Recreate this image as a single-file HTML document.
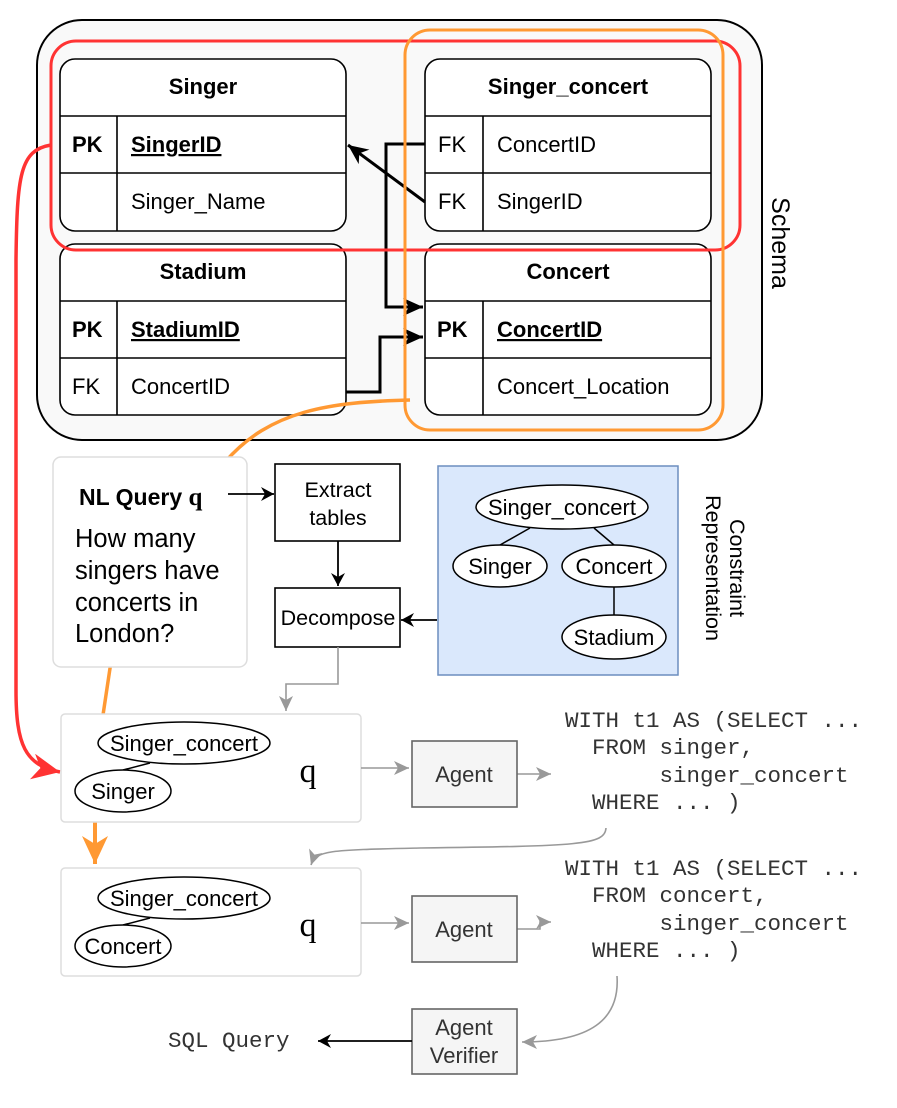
<!DOCTYPE html>
<html><head><meta charset="utf-8"><style>
body{margin:0;background:#fff}
svg text{font-family:"Liberation Sans",Arial,sans-serif}
svg text.m{font-family:"Liberation Mono",monospace;font-size:22.5px;fill:#333}
svg .s{font-family:"Liberation Serif",serif}
</style></head><body>
<svg width="897" height="1103" viewBox="0 0 897 1103" xmlns="http://www.w3.org/2000/svg">
<defs>
<marker id="ab" markerWidth="14" markerHeight="14" refX="13" refY="7" orient="auto" markerUnits="userSpaceOnUse"><path d="M0,0 L13,7 L0,14 L4,7z" fill="#000"/></marker>
<marker id="ab2" markerWidth="22" markerHeight="18" refX="20" refY="9" orient="auto" markerUnits="userSpaceOnUse"><path d="M0,0 L20,9 L0,18 L6,9z" fill="#000"/></marker>
<marker id="ag" markerWidth="16" markerHeight="14" refX="15" refY="7" orient="auto" markerUnits="userSpaceOnUse"><path d="M0,0 L15,7 L0,14 L4,7z" fill="#999"/></marker>
<marker id="ar" markerWidth="30" markerHeight="26" refX="28" refY="13" orient="auto" markerUnits="userSpaceOnUse"><path d="M0,0 L28,13 L0,26 L8,13z" fill="#f33"/></marker>
<marker id="ao" markerWidth="30" markerHeight="26" refX="28" refY="13" orient="auto" markerUnits="userSpaceOnUse"><path d="M0,0 L28,13 L0,26 L8,13z" fill="#f93"/></marker>
</defs>
<rect x="37" y="20" width="725" height="420" rx="45" fill="#f9f9f9" stroke="#000" stroke-width="2"/>
<g stroke="#000" stroke-width="1.6" fill="#fff">
<rect x="60" y="59" width="286" height="172" rx="15"/><path d="M60 116H346M60 173H346M117 116V231"/>
<rect x="425" y="59" width="286" height="172" rx="15"/><path d="M425 116H711M425 173H711M483 116V231"/>
<rect x="60" y="244" width="286" height="171" rx="15"/><path d="M60 301H346M60 358H346M117 301V415"/>
<rect x="425" y="244" width="286" height="171" rx="15"/><path d="M425 301H711M425 358H711M483 301V415"/>
</g>
<g font-size="22" fill="#000">
<text x="203" y="94" text-anchor="middle" font-weight="bold">Singer</text>
<text x="72" y="152" font-weight="bold">PK</text><text x="131" y="152" font-weight="bold" text-decoration="underline">SingerID</text>
<text x="131" y="209">Singer_Name</text>
<text x="568" y="94" text-anchor="middle" font-weight="bold">Singer_concert</text>
<text x="438" y="152">FK</text><text x="497" y="152">ConcertID</text>
<text x="438" y="209">FK</text><text x="497" y="209">SingerID</text>
<text x="203" y="279" text-anchor="middle" font-weight="bold">Stadium</text>
<text x="72" y="337" font-weight="bold">PK</text><text x="131" y="337" font-weight="bold" text-decoration="underline">StadiumID</text>
<text x="72" y="394">FK</text><text x="131" y="394">ConcertID</text>
<text x="568" y="279" text-anchor="middle" font-weight="bold">Concert</text>
<text x="437" y="337" font-weight="bold">PK</text><text x="497" y="337" font-weight="bold" text-decoration="underline">ConcertID</text>
<text x="497" y="394">Concert_Location</text>
</g>
<text x="772" y="243" font-size="25" transform="rotate(90 772 243)" text-anchor="middle">Schema</text>
<g stroke="#000" stroke-width="3" fill="none">
<path d="M425 144H386V307H423" marker-end="url(#ab2)"/>
<path d="M425 202L348 145" marker-end="url(#ab2)"/>
<path d="M346 392H380V337H423" marker-end="url(#ab2)"/>
</g>
<rect x="51" y="41" width="689" height="209" rx="25" fill="none" stroke="#f33" stroke-width="3"/>
<rect x="405" y="30" width="318" height="400" rx="25" fill="none" stroke="#f93" stroke-width="3"/>
<path d="M410 400C330 402 270 410 225 462" fill="none" stroke="#f93" stroke-width="3.5"/>
<path d="M112 655L103 715" fill="none" stroke="#f93" stroke-width="3.5"/>
<path d="M95 822V864" fill="none" stroke="#f93" stroke-width="4" marker-end="url(#ao)"/>
<path d="M51 145C20 150 17 175 16 260V690C16 745 25 765 60 772" fill="none" stroke="#f33" stroke-width="3.5" marker-end="url(#ar)"/>
<rect x="53" y="457" width="194" height="210" rx="8" fill="#fff" stroke="#ddd" stroke-width="1.5"/>
<text x="79" y="505" font-size="23" font-weight="bold">NL Query <tspan class="s" font-size="25">q</tspan></text>
<g font-size="25.5"><text x="75" y="547">How many</text><text x="75" y="579">singers have</text><text x="75" y="611">concerts in</text><text x="75" y="642">London?</text></g>
<path d="M228 494H274" stroke="#000" stroke-width="1.8" marker-end="url(#ab)"/>
<rect x="275" y="464" width="125" height="77" fill="#fff" stroke="#000" stroke-width="1.6"/>
<text x="338" y="497" font-size="21.5" text-anchor="middle">Extract</text><text x="338" y="525" font-size="21.5" text-anchor="middle">tables</text>
<path d="M338 541V586" stroke="#000" stroke-width="1.8" marker-end="url(#ab)"/>
<rect x="275" y="588" width="125" height="59" fill="#fff" stroke="#000" stroke-width="1.6"/>
<text x="338" y="625" font-size="21.5" text-anchor="middle">Decompose</text>
<path d="M437 620H401" stroke="#000" stroke-width="1.8" marker-end="url(#ab)"/>
<rect x="438" y="466" width="240" height="209" fill="#dae8fc" stroke="#6c8ebf" stroke-width="1.5"/>
<g stroke="#000" stroke-width="1.5" fill="#fff">
<path d="M530 528L500 545M594 528L614 545M614 587V616"/>
<ellipse cx="562" cy="507" rx="86" ry="22"/><ellipse cx="500" cy="566" rx="47" ry="21"/>
<ellipse cx="614" cy="566" rx="52" ry="21"/><ellipse cx="614" cy="637" rx="52" ry="22"/>
</g>
<g font-size="22" text-anchor="middle"><text x="562" y="515">Singer_concert</text><text x="500" y="574">Singer</text><text x="614" y="574">Concert</text><text x="614" y="645">Stadium</text></g>
<g font-size="21.5" text-anchor="middle"><text x="730" y="568" transform="rotate(90 730 568)">Constraint</text><text x="706" y="568" transform="rotate(90 706 568)">Representation</text></g>
<path d="M338 647V684H286V711" fill="none" stroke="#999" stroke-width="1.6" marker-end="url(#ag)"/>
<g stroke="#ddd" stroke-width="1.5" fill="#fff"><rect x="61" y="714" width="300" height="108" rx="4"/><rect x="61" y="868" width="300" height="108" rx="4"/></g>
<g stroke="#000" stroke-width="1.5" fill="#fff">
<path d="M150 763L123 770"/><ellipse cx="184" cy="743" rx="86" ry="21"/><ellipse cx="123" cy="791" rx="48" ry="21"/>
<path d="M150 918L123 925"/><ellipse cx="184" cy="898" rx="86" ry="21"/><ellipse cx="123" cy="946" rx="48" ry="21"/>
</g>
<g font-size="22" text-anchor="middle"><text x="184" y="751">Singer_concert</text><text x="123" y="799">Singer</text><text x="184" y="906">Singer_concert</text><text x="123" y="954">Concert</text></g>
<g font-size="34" text-anchor="middle"><text class="s" x="308" y="782">q</text><text class="s" x="308" y="936">q</text></g>
<g stroke="#999" stroke-width="1.6" fill="none">
<path d="M361 768H409" marker-end="url(#ag)"/><path d="M517 774H551" marker-end="url(#ag)"/>
<path d="M361 923H409" marker-end="url(#ag)"/><path d="M517 929H540V922H551" marker-end="url(#ag)"/>
<path d="M606 828C605 845 580 846 420 848C330 850 316 850 311 865" marker-end="url(#ag)"/>
<path d="M617 976C620 1020 590 1042 522 1042" marker-end="url(#ag)"/>
</g>
<g fill="#f5f5f5" stroke="#666" stroke-width="1.6"><rect x="412" y="741" width="105" height="66"/><rect x="412" y="896" width="105" height="66"/><rect x="412" y="1009" width="105" height="65"/></g>
<g font-size="22" text-anchor="middle" fill="#333"><text x="464" y="782">Agent</text><text x="464" y="937">Agent</text><text x="464" y="1035">Agent</text><text x="464" y="1063">Verifier</text></g>
<text class="m" x="565" y="727" xml:space="preserve">WITH t1 AS (SELECT ...</text>
<text class="m" x="565" y="754" xml:space="preserve">  FROM singer,</text>
<text class="m" x="565" y="782" xml:space="preserve">       singer_concert</text>
<text class="m" x="565" y="809" xml:space="preserve">  WHERE ... )</text>
<text class="m" x="565" y="875" xml:space="preserve">WITH t1 AS (SELECT ...</text>
<text class="m" x="565" y="902" xml:space="preserve">  FROM concert,</text>
<text class="m" x="565" y="930" xml:space="preserve">       singer_concert</text>
<text class="m" x="565" y="957" xml:space="preserve">  WHERE ... )</text>
<path d="M412 1041H318" stroke="#000" stroke-width="1.8" marker-end="url(#ab)"/>
<text class="m" x="168" y="1047">SQL Query</text>
</svg>
</body></html>
